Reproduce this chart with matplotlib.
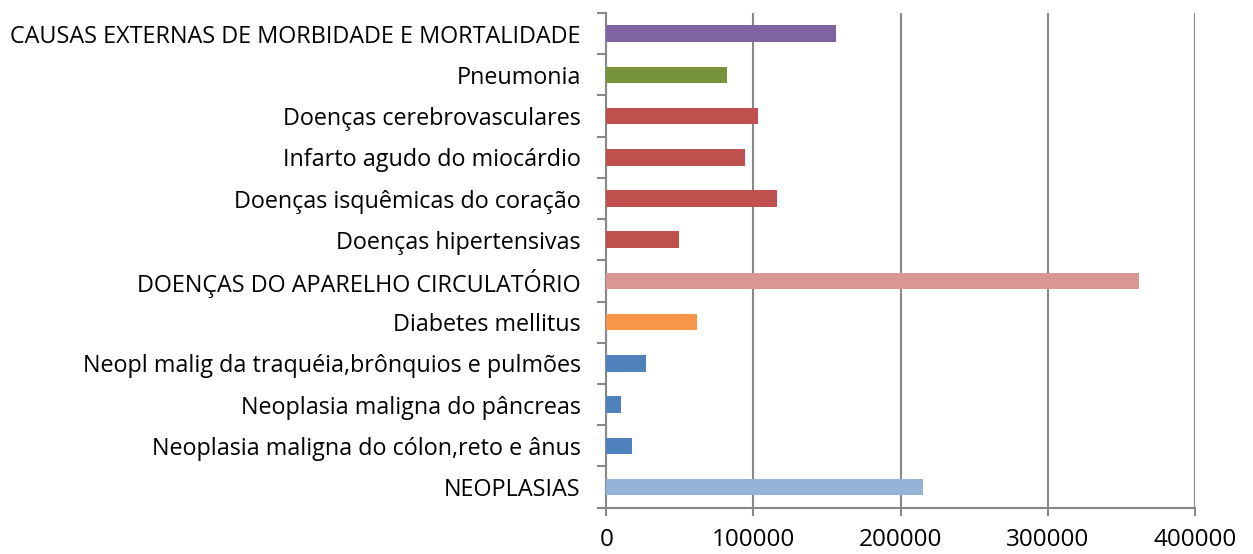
import numpy as np
import matplotlib
matplotlib.use('Agg')
import matplotlib.pyplot as plt
from matplotlib.ticker import FixedLocator

# =========================
# DATA (bottom -> top, as drawn)
# =========================
categories = [
    'NEOPLASIAS',
    'Neoplasia maligna do cólon,reto e ânus',
    'Neoplasia maligna do pâncreas',
    'Neopl malig da traquéia,brônquios e pulmões',
    'Diabetes mellitus',
    'DOENÇAS DO APARELHO CIRCULATÓRIO',
    'Doenças hipertensivas',
    'Doenças isquêmicas do coração',
    'Infarto agudo do miocárdio',
    'Doenças cerebrovasculares',
    'Pneumonia',
    'CAUSAS EXTERNAS DE MORBIDADE E MORTALIDADE',
]
values = [215000, 17700, 9800, 27000, 61400, 362000,
          49400, 115800, 94300, 103000, 81800, 156000]
bar_colors = ['#95B3D7', '#4F81BD', '#4F81BD', '#4F81BD', '#F79646', '#D99694',
              '#C0504D', '#C0504D', '#C0504D', '#C0504D', '#77933C', '#8064A2']
x_ticks = [0, 100000, 200000, 300000, 400000]

# =========================
# STYLE
# =========================
AXIS_GRAY = '#888888'
FONT = 'Open Sans'
LABEL_SIZE = 16.85
XTICK_SIZE = 17.5

fig = plt.figure(figsize=(12.53, 5.54), dpi=100)
ax = fig.add_axes([0.4839, 0.0836, 0.9535 - 0.4839, 0.9765 - 0.0836])

y = np.arange(len(categories))
ax.barh(y, values, height=0.4, color=bar_colors, zorder=3)

ax.set_xlim(0, 400000)
ax.set_ylim(-0.5, len(categories) - 0.5)

ax.set_xticks(x_ticks)
ax.set_xticklabels([str(v) for v in x_ticks], fontsize=XTICK_SIZE, family=FONT)
ax.set_yticks(y)
ax.set_yticklabels(categories, fontsize=LABEL_SIZE, family=FONT)
ax.yaxis.set_minor_locator(FixedLocator(np.arange(-0.5, len(categories), 1.0)))

ax.tick_params(axis='y', which='major', length=0, pad=18.5)
ax.tick_params(axis='y', which='minor', length=6.5, width=1.5, color=AXIS_GRAY, direction='out')
ax.tick_params(axis='x', which='major', length=6, width=1.5, color=AXIS_GRAY, direction='out', pad=8.5)

ax.grid(axis='x', color=AXIS_GRAY, linewidth=1.5, zorder=0)
ax.set_axisbelow(True)

for side in ['top', 'right']:
    ax.spines[side].set_visible(False)
for side in ['left', 'bottom']:
    ax.spines[side].set_color(AXIS_GRAY)
    ax.spines[side].set_linewidth(1.5)

fig.savefig('out.png', dpi=100)
